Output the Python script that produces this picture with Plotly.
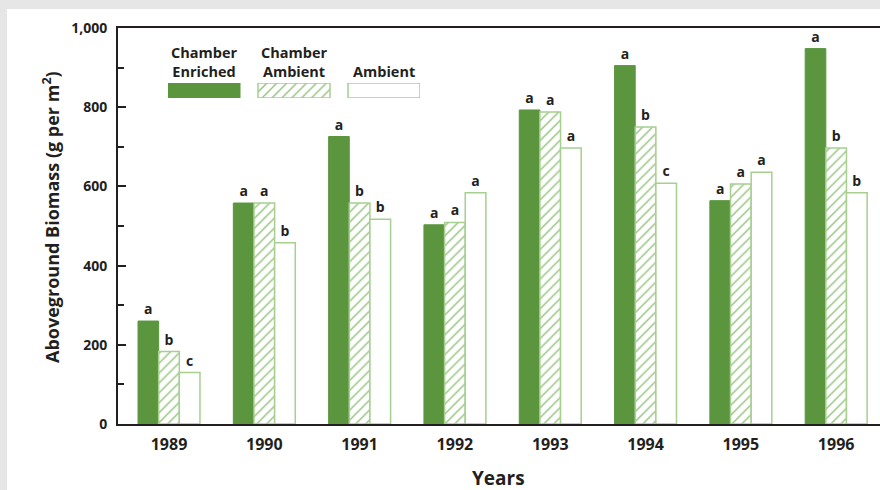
import plotly.graph_objects as go

# ---- data ----
years = ["1989", "1990", "1991", "1992", "1993", "1994", "1995", "1996"]
series_names = ["Chamber Enriched", "Chamber Ambient", "Ambient"]
chamber_enriched = [260, 558, 726, 503, 793, 905, 564, 948]
chamber_ambient = [183, 558, 558, 509, 788, 750, 606, 697]
ambient = [130, 458, 517, 584, 697, 608, 636, 584]
letters_enriched = ["a", "a", "a", "a", "a", "a", "a", "a"]
letters_chamber_ambient = ["b", "a", "b", "a", "a", "b", "a", "b"]
letters_ambient = ["c", "b", "b", "a", "a", "c", "a", "b"]
y_ticks = [0, 200, 400, 600, 800, 1000]
legend_labels = ["Chamber<br>Enriched", "Chamber<br>Ambient", "Ambient"]

# ---- geometry helpers (pixels -> paper) ----
W, H = 880, 490
ML, MR, MT, MB = 118, 0, 28, 66
PW, PH = W - ML - MR, H - MT - MB


def px_x(px):
    return (px - ML) / PW


def px_y(py):
    return (H - MB - py) / PH


FONT = "Open Sans"
TXT = "#231f20"
GREEN = "#5b963f"
HATCH = "#93c27c"
OUTLINE = "#a6cf90"

fig = go.Figure()

styles = [
    dict(color=GREEN, line=dict(color=GREEN, width=1)),
    dict(color="white", line=dict(color=OUTLINE, width=1.5),
         pattern=dict(shape="/", fgcolor=HATCH, bgcolor="white", size=7,
                      solidity=0.2, fillmode="replace")),
    dict(color="white", line=dict(color=OUTLINE, width=1.5)),
]
values = [chamber_enriched, chamber_ambient, ambient]
letters = [letters_enriched, letters_chamber_ambient, letters_ambient]

for name, vals, lets, st in zip(series_names, values, letters, styles):
    fig.add_trace(go.Bar(
        x=years, y=vals, name=name, marker=st,
        text=lets, textposition="outside", constraintext="none",
        textfont=dict(family=FONT, size=14, color=TXT, weight="bold"),
        cliponaxis=False, showlegend=False, hoverinfo="x+y+name",
    ))

# legend swatches drawn as bars on a hidden sub-axis
for i, (name, st) in enumerate(zip(series_names, styles)):
    fig.add_trace(go.Bar(
        x=[i], y=[1], base=[0], width=0.8, offset=-0.4, marker=st,
        xaxis="x2", yaxis="y2", showlegend=False, hoverinfo="skip",
    ))

annotations = []
for i, lab in enumerate(legend_labels):
    annotations.append(dict(
        x=i, xref="x2", y=px_y(83), yref="paper", text=lab,
        showarrow=False, xanchor="center", yanchor="bottom",
        font=dict(family=FONT, size=14.5, color=TXT, weight="bold"),
    ))

annotations.append(dict(
    x=px_x(51), y=px_y(217), xref="paper", yref="paper",
    text="Aboveground Biomass (g per m<sup>2</sup>)", textangle=-90,
    showarrow=False, xanchor="center", yanchor="middle",
    font=dict(family=FONT, size=18, color=TXT, weight="bold"),
))
annotations.append(dict(
    x=px_x(498), y=px_y(478), xref="paper", yref="paper", text="Years",
    showarrow=False, xanchor="center", yanchor="middle",
    font=dict(family=FONT, size=19, color=TXT, weight="bold"),
))

shapes = [dict(
    type="rect", xref="paper", yref="paper", x0=px_x(7), x1=1.05,
    y0=px_y(495), y1=px_y(9), fillcolor="white", line=dict(width=0),
    layer="below",
)]

fig.update_layout(
    width=W, height=H,
    margin=dict(l=ML, r=MR, t=MT, b=MB),
    paper_bgcolor="#e6e6e6", plot_bgcolor="white",
    barmode="group", bargap=0.35, bargroupgap=0,
    showlegend=False,
    annotations=annotations, shapes=shapes,
    xaxis=dict(
        range=[-0.535, 7.46], showline=True, linewidth=2, linecolor=TXT,
        mirror=True, ticks="", showgrid=False, zeroline=False,
        tickfont=dict(family=FONT, size=16, color=TXT, weight="bold"),
        ticklabelstandoff=5,
    ),
    yaxis=dict(
        range=[0, 1000], tickvals=y_ticks, tickformat=",",
        showline=True, linewidth=2, linecolor=TXT,
        ticks="inside", ticklen=8, tickwidth=2, tickcolor=TXT,
        minor=dict(dtick=100, ticks="inside", ticklen=6, tickwidth=1.5,
                   tickcolor=TXT),
        showgrid=False, zeroline=False,
        tickfont=dict(family=FONT, size=14, color=TXT, weight="bold"),
        ticklabelstandoff=6,
    ),
    xaxis2=dict(domain=[px_x(168), px_x(420)], range=[-0.4, 2.4],
                anchor="y2", visible=False, fixedrange=True),
    yaxis2=dict(domain=[px_y(98), px_y(83)], range=[0, 1],
                anchor="x2", visible=False, fixedrange=True),
)

fig.write_html(
    "out.html",
    config={"displayModeBar": False},
    post_script="document.body.style.margin='0';"
                "document.body.style.background='#e6e6e6';",
)
